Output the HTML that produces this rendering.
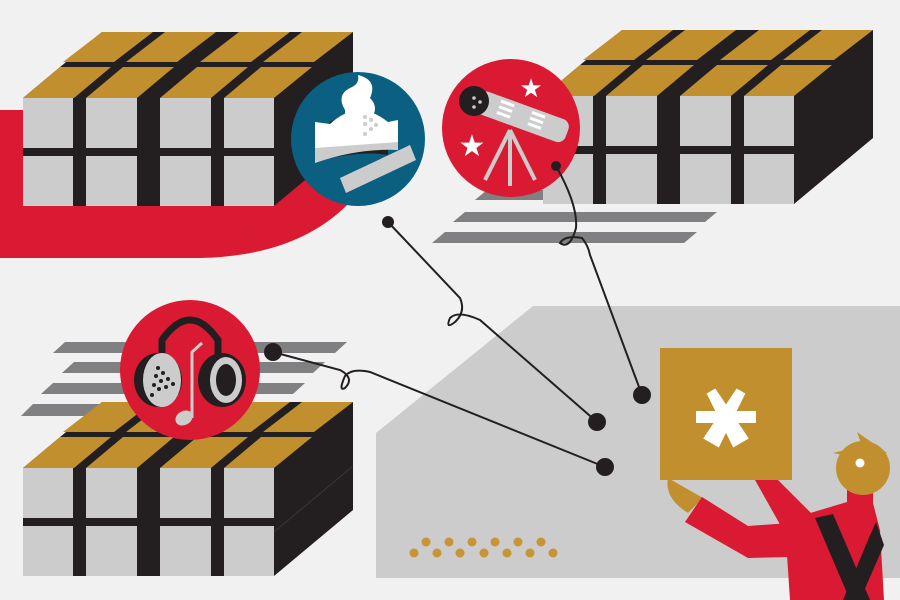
<!DOCTYPE html>
<html><head><meta charset="utf-8"><style>html,body{margin:0;padding:0;background:#f1f1f1}svg{display:block}</style></head>
<body>
<svg width="900" height="600" viewBox="0 0 900 600" xmlns="http://www.w3.org/2000/svg">
<defs>
<g id="blk">
  <polygon points="0,66 79,0 330,0 330,108 251,174 0,174" fill="#231f20"/>
  <polygon points="40,30 79,0 130,0 91,30" fill="#c18f2e"/>
  <polygon points="103,30 142,0 193,0 154,30" fill="#c18f2e"/>
  <polygon points="177,30 216,0 267,0 228,30" fill="#c18f2e"/>
  <polygon points="240,30 279,0 330,0 291,30" fill="#c18f2e"/>
  <polygon points="0,66 37,35 88,35 51,66" fill="#c18f2e"/>
  <polygon points="63,66 100,35 151,35 114,66" fill="#c18f2e"/>
  <polygon points="137,66 174,35 225,35 188,66" fill="#c18f2e"/>
  <polygon points="201,66 238,35 289,35 251,66" fill="#c18f2e"/>
  <g fill="#cbcccb">
  <rect x="0" y="66" width="50" height="50"/><rect x="63" y="66" width="51" height="50"/>
  <rect x="137" y="66" width="51" height="50"/><rect x="201" y="66" width="50" height="50"/>
  <rect x="0" y="124" width="50" height="50"/><rect x="63" y="124" width="51" height="50"/>
  <rect x="137" y="124" width="51" height="50"/><rect x="201" y="124" width="50" height="50"/>
  </g>
</g>
</defs>
<rect width="900" height="600" fill="#f1f1f1"/>
<path d="M0,110 H310 L352,200 Q300,256 200,258 H0 Z" fill="#da1a32"/>
<g fill="#808083">
<polygon points="487,190 720,190 708,200 475,200"/>
<polygon points="465,212 717,212 705,222 453,222"/>
<polygon points="445,232 697,232 684,243 432,243"/>
</g>
<use href="#blk" x="23" y="32"/>
<use href="#blk" x="543" y="30"/>
<g fill="#808083">
<polygon points="65,342 347,342 335,353 53,353"/>
<polygon points="74,362 325,362 313,373 62,373"/>
<polygon points="53,383 305,383 293,394 41,394"/>
<polygon points="33,404 300,404 288,416 21,416"/>
</g>
<use href="#blk" x="23" y="402"/>
<line x1="274" y1="532" x2="353" y2="466" stroke="#3a3637" stroke-width="1"/>
<polygon points="376,433 533,306 900,306 900,578 376,578" fill="#cbcccb"/>
<g fill="#c99434">
<circle cx="426" cy="542" r="4.5"/><circle cx="449" cy="542" r="4.5"/><circle cx="472" cy="542" r="4.5"/><circle cx="495" cy="542" r="4.5"/><circle cx="518" cy="542" r="4.5"/><circle cx="541" cy="542" r="4.5"/>
<circle cx="414" cy="553" r="4.5"/><circle cx="437" cy="553" r="4.5"/><circle cx="460" cy="553" r="4.5"/><circle cx="484" cy="553" r="4.5"/><circle cx="507" cy="553" r="4.5"/><circle cx="530" cy="553" r="4.5"/><circle cx="553" cy="553" r="4.5"/>
</g>
<!-- blue circle -->
<circle cx="358" cy="139" r="67" fill="#0b5f80"/>
<path d="M330,122 Q358,108 388,122 L388,155 Q358,150 315,162 Z" fill="#231f20"/>
<path d="M345,110 Q336,95 350,88 Q360,84 358,75 Q378,80 370,98 Q380,108 370,120 L345,120 Z" fill="#fff"/>
<path d="M315,122 L330,124 Q358,98 388,122 L398,120 L398,150 Q358,145 315,163 Z" fill="#fff"/>
<path d="M315,148 L398,142 L398,150 Q358,148 315,163 Z" fill="#cbcccb"/>
<polygon points="340,178 410,145 416,160 346,193" fill="#cbcccb"/>
<g fill="#cbcccb"><circle cx="365" cy="117" r="2"/><circle cx="371" cy="120" r="2"/><circle cx="365" cy="124" r="2"/><circle cx="376" cy="125" r="2"/><circle cx="371" cy="129" r="2"/><circle cx="365" cy="134" r="2"/></g>
<!-- telescope circle -->
<circle cx="511" cy="128" r="69" fill="#da1a32"/>
<g stroke="#cbcccb" stroke-width="4"><line x1="510" y1="130" x2="485" y2="180"/><line x1="510" y1="130" x2="510" y2="186"/><line x1="510" y1="130" x2="535" y2="180"/></g>
<g transform="rotate(20 520 116)">
<rect x="475" y="104" width="95" height="24" rx="8" fill="#cbcccb"/>
<rect x="545" y="110" width="25" height="12" rx="6" fill="#cbcccb"/>
<g fill="#fff"><rect x="497" y="107" width="14" height="3"/><rect x="497" y="113" width="14" height="3"/><rect x="497" y="119" width="14" height="3"/><rect x="530" y="107" width="14" height="3"/><rect x="530" y="113" width="14" height="3"/><rect x="530" y="119" width="14" height="3"/></g>
</g>
<circle cx="474" cy="101" r="15" fill="#231f20"/>
<g fill="#cbcccb"><circle cx="474" cy="98" r="1.8"/><circle cx="480" cy="102" r="1.8"/><circle cx="474" cy="107" r="1.8"/></g>
<text x="531" y="97" font-family="DejaVu Sans" font-size="26" fill="#fff" text-anchor="middle">★</text>
<text x="472" y="156" font-family="DejaVu Sans" font-size="30" fill="#fff" text-anchor="middle">★</text>
<!-- headphone circle -->
<circle cx="190" cy="370" r="70" fill="#da1a32"/>
<path d="M162,372 V340 Q190,300 218,340 V372" fill="none" stroke="#231f20" stroke-width="7"/>
<ellipse cx="158" cy="380" rx="24" ry="27" fill="#231f20"/>
<ellipse cx="162" cy="380" rx="19" ry="27" fill="#cbcccb"/>
<ellipse cx="222" cy="380" rx="24" ry="27" fill="#231f20"/>
<ellipse cx="226" cy="380" rx="16" ry="23" fill="#cbcccb"/>
<ellipse cx="226" cy="380" rx="10" ry="16" fill="#231f20"/>
<g fill="#231f20"><circle cx="158" cy="368" r="2"/><circle cx="163" cy="373" r="2"/><circle cx="156" cy="376" r="2"/><circle cx="161" cy="381" r="2"/><circle cx="168" cy="379" r="2"/><circle cx="154" cy="385" r="2"/><circle cx="159" cy="389" r="2"/><circle cx="166" cy="387" r="2"/><circle cx="152" cy="395" r="2"/><circle cx="173" cy="384" r="2"/></g>
<path d="M192,418 V352 L202,343" fill="none" stroke="#cbcccb" stroke-width="3"/>
<ellipse cx="184" cy="418" rx="9" ry="7" fill="#cbcccb" transform="rotate(-30 184 418)"/>
<!-- connectors -->
<g fill="none" stroke="#231f20" stroke-width="2">
<path d="M388,222 L460,298 Q466,312 455,322 Q445,330 450,318 Q458,310 480,320 L597,422"/>
<path d="M273,352 L340,370 Q355,378 345,388 Q338,392 345,376 Q352,368 370,372 L605,467"/>
<path d="M556,166 Q578,205 576,228 Q570,250 560,243 Q565,235 582,238 Q588,245 590,255 L642,395"/>
</g>
<g fill="#231f20"><circle cx="388" cy="222" r="6"/><circle cx="556" cy="166" r="5"/><circle cx="273" cy="352" r="9"/><circle cx="642" cy="395" r="9"/><circle cx="597" cy="422" r="9"/><circle cx="605" cy="467" r="9"/></g>
<!-- person -->
<path d="M668,478 Q664,498 688,513 L703,498 Z" fill="#c18f2e"/>
<polygon points="702,497 748,526 790,523 790,557 748,558 685,522" fill="#da1a32"/>
<polygon points="755,480 778,480 818,520 800,560 782,528" fill="#da1a32"/>
<polygon points="787,520 847,502 873,503 880,530 884,600 790,600 787,555" fill="#da1a32"/>
<polygon points="815,518 833,514 870,600 850,600" fill="#231f20"/>
<polygon points="876,522 884,545 860,600 843,600 868,540" fill="#231f20"/>
<polygon points="847,490 873,490 873,505 847,505" fill="#da1a32"/>
<circle cx="863" cy="468" r="27" fill="#c18f2e"/>
<polygon points="833,453 862,446 857,432 887,453 870,460" fill="#c18f2e"/>
<circle cx="860" cy="463" r="4.5" fill="#fff"/>
<!-- gold box -->
<rect x="660" y="348" width="132" height="132" fill="#c18f2e"/>
<g fill="#fff">
<polygon points="696,411 756,411 756,423 696,423" transform="rotate(0 726 417)"/>
<polygon points="721,387 731,387 735,447 717,447" transform="rotate(-30 726 417)"/>
<polygon points="721,387 731,387 735,447 717,447" transform="rotate(30 726 417)"/>
</g>
</svg>
</body></html>
